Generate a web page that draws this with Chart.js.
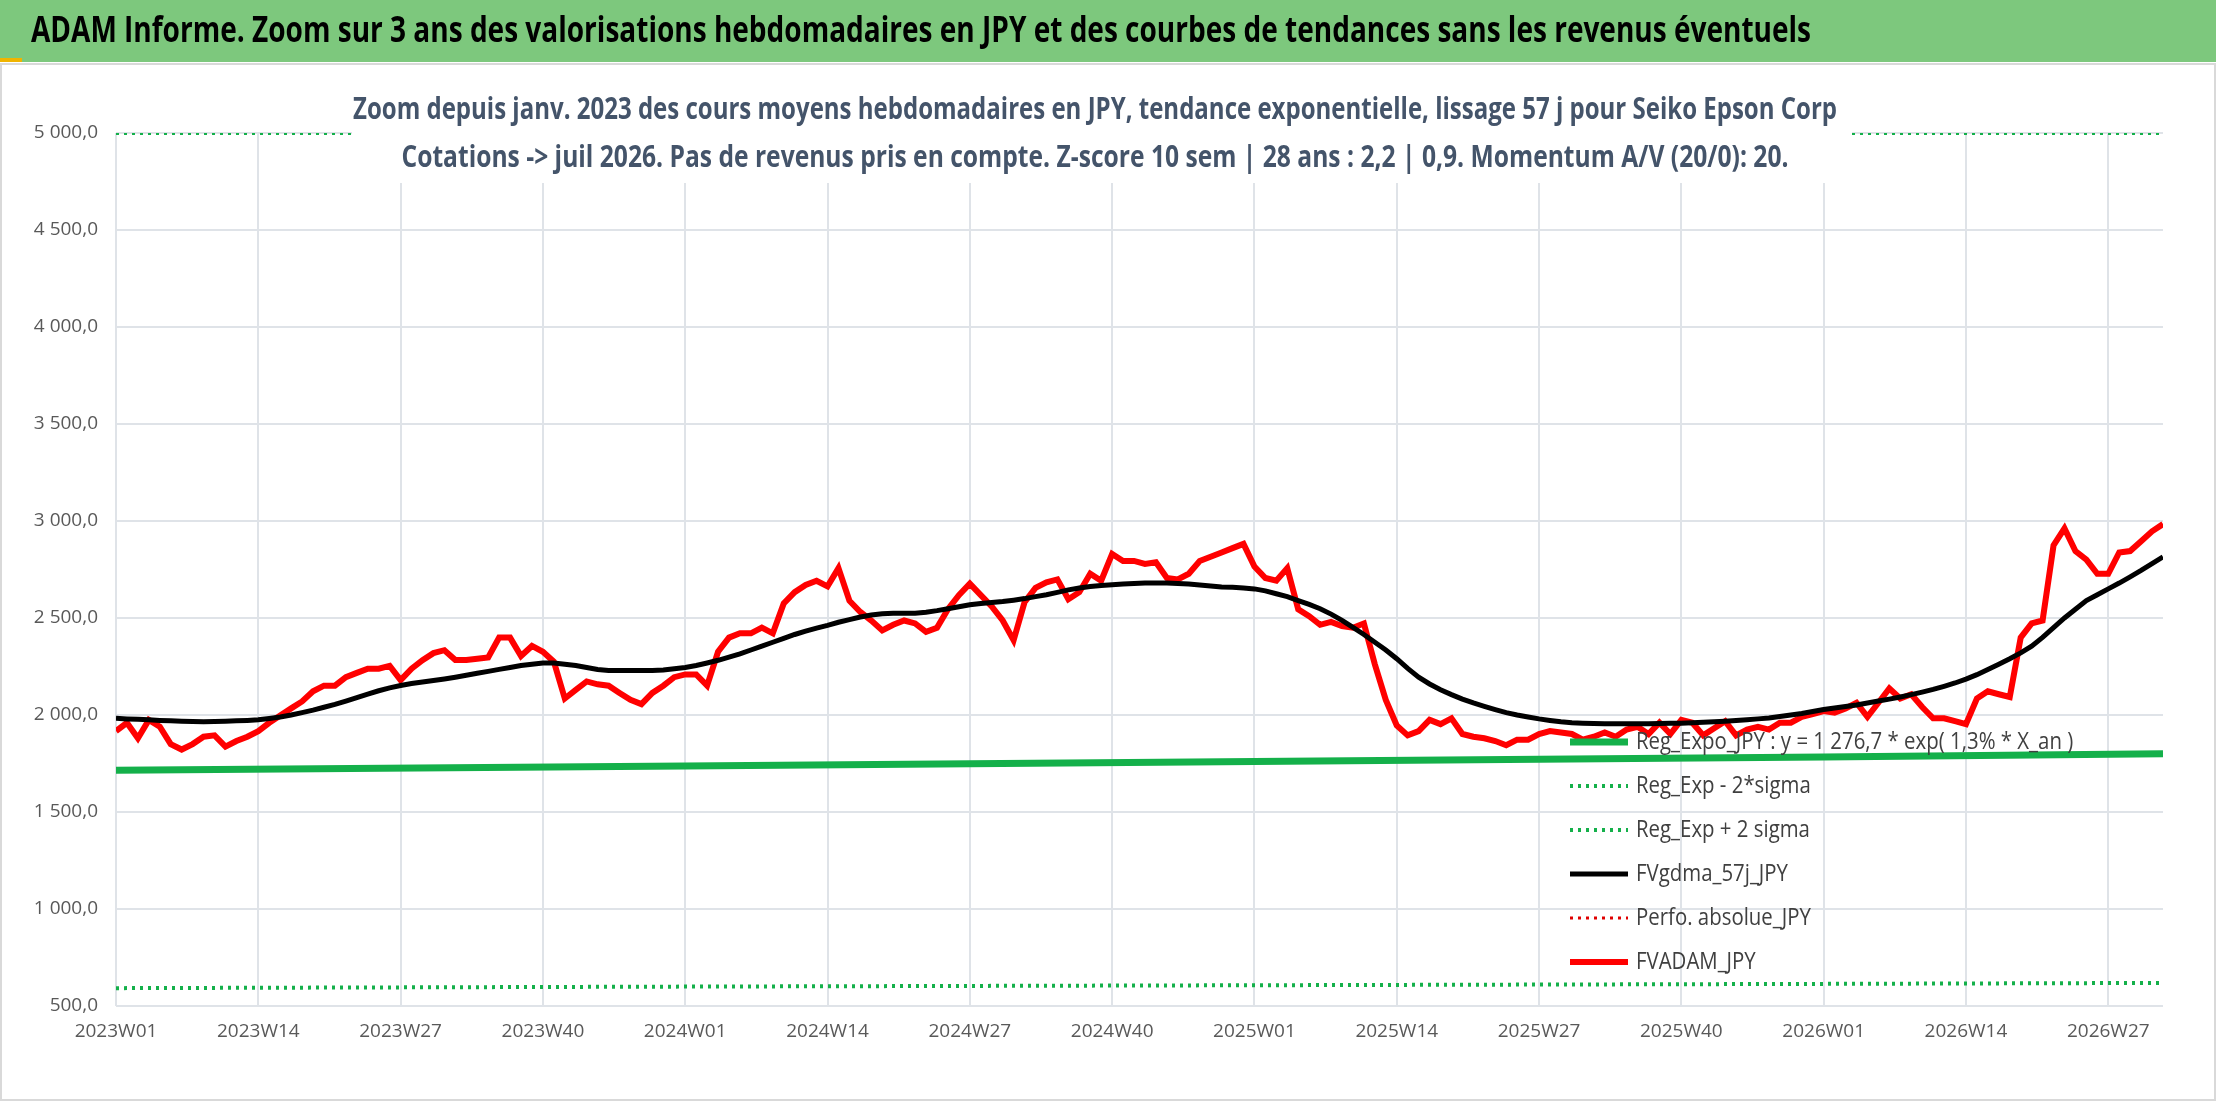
<!DOCTYPE html>
<html><head><meta charset="utf-8">
<script src="https://cdn.jsdelivr.net/npm/chart.js@4/dist/chart.umd.min.js"></script>
<style>html,body{margin:0;padding:0;background:#fff}#wrap{width:2216px;height:1102px}</style>
</head><body><div id="wrap"><canvas id="c" width="2216" height="1102"></canvas></div>
<script>
// weekly labels 2023W01 .. 2026W32
const weekLabels = [];
[[2023,52],[2024,52],[2025,52],[2026,32]].forEach(([y,n]) => { for (let w=1; w<=n; w++) weekLabels.push(y+'W'+String(w).padStart(2,'0')); });

const fvadam = [1917,1960,1880,1975,1940,1850,1822,1850,1888,1895,
 1837,1866,1888,1917,1960,1998,2034,2070,2122,2151,
 2151,2195,2217,2239,2239,2253,2180,2239,2283,2319,
 2334,2283,2283,2290,2297,2399,2399,2304,2356,2326,
 2275,2085,2129,2173,2158,2151,2114,2078,2056,2114,
 2151,2195,2209,2209,2151,2326,2399,2421,2421,2450,
 2421,2575,2633,2670,2692,2663,2757,2589,2531,2487,
 2436,2465,2487,2472,2429,2450,2545,2618,2677,2618,
 2560,2487,2385,2582,2655,2684,2699,2597,2633,2728,
 2692,2830,2794,2794,2779,2787,2706,2699,2728,2794,
 2816,2838,2860,2882,2765,2706,2692,2757,2545,2509,
 2465,2480,2458,2450,2472,2261,2078,1946,1895,1917,
 1975,1953,1983,1902,1888,1880,1866,1844,1873,1873,
 1902,1917,1910,1902,1873,1888,1910,1888,1925,1939,
 1902,1961,1902,1975,1960,1895,1932,1968,1895,1925,
 1939,1925,1960,1960,1990,2005,2020,2012,2034,2063,
 1990,2063,2137,2085,2107,2041,1983,1983,1968,1953,
 2085,2122,2107,2093,2399,2472,2487,2874,2962,2845,
 2801,2728,2728,2838,2845,2896,2947,2984];

const fvgdma = [1983,1980,1978,1975,1972,1970,1968,1966,1965,1966,
 1968,1970,1972,1975,1982,1990,2000,2012,2025,2040,
 2055,2072,2090,2108,2125,2140,2152,2162,2170,2178,
 2186,2195,2205,2215,2225,2235,2245,2255,2262,2268,
 2268,2262,2255,2245,2235,2230,2230,2230,2230,2230,
 2232,2238,2245,2255,2268,2282,2298,2315,2335,2355,
 2375,2395,2415,2432,2448,2462,2478,2492,2505,2515,
 2522,2525,2525,2525,2530,2538,2548,2558,2568,2575,
 2580,2585,2592,2600,2610,2620,2632,2645,2655,2662,
 2668,2672,2675,2678,2680,2680,2680,2678,2675,2670,
 2665,2660,2658,2655,2650,2640,2625,2610,2590,2570,
 2548,2520,2488,2452,2415,2375,2335,2290,2240,2195,
 2160,2130,2105,2082,2062,2045,2028,2012,2000,1990,
 1980,1972,1965,1960,1958,1956,1955,1955,1955,1955,
 1955,1956,1957,1958,1960,1962,1965,1968,1972,1976,
 1980,1985,1992,2000,2008,2018,2028,2036,2044,2052,
 2062,2072,2082,2093,2105,2118,2132,2148,2165,2185,
 2208,2235,2262,2290,2320,2355,2400,2450,2500,2545,
 2590,2620,2650,2680,2712,2745,2780,2815];

// trend lines, sparse points
const regExpo = [{x:'2023W01',y:1715},{x:'2024W01',y:1737},{x:'2025W01',y:1760},{x:'2026W01',y:1783},{x:'2026W32',y:1800}];
const regLow = [{x:'2023W01',y:592},{x:'2024W01',y:600},{x:'2025W01',y:607},{x:'2026W01',y:614},{x:'2026W32',y:619}];
const regHigh = [{x:'2023W01',y:5000},{x:'2026W32',y:5000}];
const perfoAbs = [];

const titleText = 'ADAM Informe. Zoom sur 3 ans des valorisations hebdomadaires en JPY et des courbes de tendances sans les revenus éventuels';
const subLines = ['Zoom depuis janv. 2023 des cours moyens hebdomadaires en JPY, tendance exponentielle, lissage 57 j pour Seiko Epson Corp',
  'Cotations -> juil 2026. Pas de revenus pris en compte. Z-score 10 sem | 28 ans : 2,2 | 0,9. Momentum A/V (20/0): 20.'];

const FONT = "'Open Sans',sans-serif";
const DOT = [3,5];
const legendItems = [
  {label:'Reg_Expo_JPY : y = 1 276,7 * exp( 1,3% * X_an )', color:'#14b04a', width:7, dash:[]},
  {label:'Reg_Exp - 2*sigma', color:'#14b04a', width:4, dash:DOT},
  {label:'Reg_Exp + 2 sigma', color:'#14b04a', width:4, dash:DOT},
  {label:'FVgdma_57j_JPY', color:'#000', width:5, dash:[]},
  {label:'Perfo. absolue_JPY', color:'#e00000', width:3, dash:DOT},
  {label:'FVADAM_JPY', color:'#ff0000', width:6, dash:[]}
];

// draw text squeezed to a given width (condensed look)
function fitText(c, text, x, y, w, align){
  const m = c.measureText(text).width;
  const k = Math.min(1, w / m);
  c.save();
  c.translate(x, y); c.scale(k, 1);
  c.textAlign = align || 'left';
  c.fillText(text, 0, 0);
  c.restore();
}

const deco = {
  id: 'deco',
  beforeDraw(chart){
    const c = chart.ctx;
    c.save();
    c.fillStyle = '#fff'; c.fillRect(0,0,chart.width,chart.height);
    c.fillStyle = '#7dc87d'; c.fillRect(0,0,chart.width,62);
    c.fillStyle = '#f0b400'; c.fillRect(0,58,22,4);
    c.strokeStyle = '#d9d9d9'; c.lineWidth = 2; c.strokeRect(1,64,chart.width-2,chart.height-66);
    c.fillStyle = '#000'; c.font = "bold 36px "+FONT; c.textBaseline = 'middle';
    fitText(c, titleText, 31, 32, 1780);
    c.restore();
  },
  afterDatasetsDraw(chart){
    const c = chart.ctx;
    c.save();
    c.fillStyle = '#fff'; c.fillRect(352,88,1500,95);
    c.fillStyle = '#44546a'; c.font = "bold 30px "+FONT; c.textBaseline = 'middle';
    fitText(c, subLines[0], 1095, 110, 1484, 'center');
    fitText(c, subLines[1], 1095, 158, 1387, 'center');
    c.font = "24px "+FONT; c.fillStyle = '#404040';
    legendItems.forEach((it,i) => {
      const y = 742 + i*44;
      c.strokeStyle = it.color; c.lineWidth = it.width; c.setLineDash(it.dash);
      c.beginPath(); c.moveTo(1570,y); c.lineTo(1628,y); c.stroke();
      fitText(c, it.label, 1636, y, c.measureText(it.label).width * 0.85);
    });
    c.restore();
  }
};

function frNum(v){
  const s = v.toFixed(1).replace('.', ',');
  const [i, d] = s.split(',');
  return i.replace(/\B(?=(\d{3})+(?!\d))/g, ' ') + ',' + d;
}

new Chart(document.getElementById('c'), {
  type: 'line',
  data: {
    labels: weekLabels,
    datasets: [
      {label:'Reg_Expo_JPY', data:regExpo, borderColor:'#14b04a', borderWidth:7, pointRadius:0},
      {label:'Reg_Exp - 2*sigma', data:regLow, borderColor:'#14b04a', borderWidth:4, borderDash:DOT, pointRadius:0},
      {label:'Reg_Exp + 2 sigma', data:regHigh, borderColor:'#14b04a', borderWidth:4, borderDash:DOT, pointRadius:0},
      {label:'FVgdma_57j_JPY', data:fvgdma, borderColor:'#000', borderWidth:5, pointRadius:0},
      {label:'Perfo. absolue_JPY', data:perfoAbs, borderColor:'#e00000', borderWidth:3, borderDash:DOT, pointRadius:0},
      {label:'FVADAM_JPY', data:fvadam, borderColor:'#ff0000', borderWidth:6, pointRadius:0}
    ]
  },
  options: {
    responsive: false, animation: false,
    layout: { padding: { top: 133, right: 53, bottom: 30, left: 0 } },
    plugins: { legend: { display: false }, tooltip: { enabled: false } },
    scales: {
      x: {
        min: 0, max: weekLabels.length - 1,
        afterFit: s => { s.height = 66; },
        grid: { color: ctx => (ctx.index % 13 === 0 ? '#dfe3e8' : 'rgba(0,0,0,0)'), lineWidth: 2, drawTicks: false },
        border: { display: false },
        ticks: { autoSkip: false, maxRotation: 0, padding: 14, color: '#595959', font: { family: FONT, size: 19 },
          callback: (v, i) => (i % 13 === 0 ? weekLabels[i] : '') }
      },
      y: {
        min: 500, max: 5000,
        afterFit: s => { s.width = 116; },
        grid: { color: '#dfe3e8', lineWidth: 2, drawTicks: false },
        border: { display: false },
        ticks: { stepSize: 500, padding: 18, color: '#595959', font: { family: FONT, size: 19 },
          callback: v => frNum(v) }
      }
    }
  },
  plugins: [deco]
});
</script></body></html>
